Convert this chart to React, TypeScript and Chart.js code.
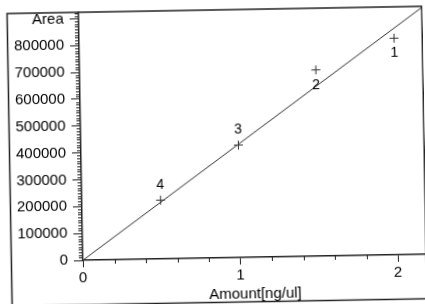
import React, { useEffect, useRef } from 'react';
import { Chart, registerables } from 'chart.js';

Chart.register(...registerables);

// ---- data ----
const amounts = [2, 1.5, 1, 0.5];
const areas = [807000, 694000, 419000, 219000];
const pointLabels = ['1', '2', '3', '4'];
const labelSide = ['below', 'below', 'above', 'above'];

const lineAmounts = [0, 2.184];
const lineAreas = [0, 922000];

const xTickValues = [0, 1, 2];
const xTickLabels = ['0', '1', '2'];
const yTickValues = [0, 100000, 200000, 300000, 400000, 500000, 600000, 700000, 800000, 900000];
const yTickLabels = ['0', '100000', '200000', '300000', '400000', '500000', '600000', '700000', '800000', 'Area'];
const xTitle = 'Amount[ng/ul]';

const X_MAX = 2.184;
const Y_MAX = 924000;
const X_MINOR_STEP = 0.2;
const Y_MINOR_STEP = 10000;

const FONT = '"Liberation Sans", Arial, sans-serif';
const INK = '#000';

const minorTicksPlugin = {
  id: 'minorTicks',
  afterDraw(chart: any) {
    const { ctx, chartArea } = chart;
    const xs = chart.scales.x;
    const ys = chart.scales.y;
    ctx.save();
    ctx.strokeStyle = '#222';
    ctx.lineWidth = 1;
    ctx.beginPath();
    for (let i = 1; i * X_MINOR_STEP < X_MAX; i++) {
      if (i % 5 === 0) continue;
      const px = Math.round(xs.getPixelForValue(i * X_MINOR_STEP)) + 0.5;
      ctx.moveTo(px, chartArea.bottom);
      ctx.lineTo(px, chartArea.bottom + 4);
    }
    for (let i = 1; i * Y_MINOR_STEP < Y_MAX; i++) {
      if (i % 10 === 0) continue;
      const py = Math.round(ys.getPixelForValue(i * Y_MINOR_STEP)) + 0.5;
      ctx.moveTo(chartArea.left - 4, py);
      ctx.lineTo(chartArea.left, py);
    }
    ctx.stroke();
    ctx.restore();
  },
};

const framePlugin = {
  id: 'frame',
  afterDraw(chart: any) {
    const { ctx, chartArea } = chart;
    ctx.save();
    ctx.strokeStyle = '#222';
    ctx.lineWidth = 1.5;
    const left = 9.5;
    const top = chartArea.top;
    const right = chartArea.right - 0.75;
    const bottom = 302.5;
    ctx.strokeRect(left, top, right - left, bottom - top);
    ctx.restore();
  },
};

const pointLabelPlugin = {
  id: 'pointLabels',
  afterDatasetsDraw(chart: any) {
    const { ctx } = chart;
    const meta = chart.getDatasetMeta(1);
    ctx.save();
    ctx.fillStyle = INK;
    ctx.font = `14px ${FONT}`;
    ctx.textAlign = 'center';
    ctx.textBaseline = 'middle';
    meta.data.forEach((el: any, i: number) => {
      const dy = labelSide[i] === 'below' ? 15 : -15;
      ctx.fillText(pointLabels[i], el.x, el.y + dy);
    });
    ctx.restore();
  },
};

export default function App() {
  const canvasRef = useRef<HTMLCanvasElement | null>(null);

  useEffect(() => {
    if (!canvasRef.current) return;
    const chart = new Chart(canvasRef.current, {
      type: 'scatter',
      data: {
        datasets: [
          {
            type: 'line',
            data: lineAmounts.map((x, i) => ({ x, y: lineAreas[i] })),
            borderColor: '#333',
            borderWidth: 1,
            pointRadius: 0,
            fill: false,
          } as any,
          {
            type: 'scatter',
            data: amounts.map((x, i) => ({ x, y: areas[i] })),
            pointStyle: 'cross',
            pointRadius: 4.5,
            borderColor: '#333',
            backgroundColor: '#333',
            borderWidth: 1,
          },
        ],
      },
      options: {
        responsive: false,
        animation: false,
        layout: { autoPadding: false, padding: { top: 10, right: 0, left: 0, bottom: 0 } },
        plugins: { legend: { display: false }, tooltip: { enabled: false } },
        scales: {
          x: {
            type: 'linear',
            min: 0,
            max: X_MAX,
            afterBuildTicks: (s: any) => {
              s.ticks = xTickValues.map((v) => ({ value: v }));
            },
            afterFit: (s: any) => {
              s.height = 46;
              s.paddingLeft = 0;
              s.paddingRight = 0;
            },
            ticks: {
              callback: (_v: any, i: number) => xTickLabels[i],
              color: INK,
              font: { family: FONT, size: 15 },
              padding: 2,
              maxRotation: 0,
            },
            grid: { display: true, drawOnChartArea: false, drawTicks: true, tickLength: 7, color: '#222', lineWidth: 1 },
            border: { display: true, color: '#222', width: 1.5 },
            title: {
              display: true,
              text: xTitle,
              color: INK,
              font: { family: FONT, size: 15, lineHeight: 1.1 },
              padding: { top: 0, bottom: 1 },
            },
          },
          y: {
            type: 'linear',
            min: 0,
            max: Y_MAX,
            afterBuildTicks: (s: any) => {
              s.ticks = yTickValues.map((v) => ({ value: v }));
            },
            afterFit: (s: any) => {
              s.width = 81;
              s.paddingTop = 0;
              s.paddingBottom = 0;
            },
            ticks: {
              callback: (_v: any, i: number) => yTickLabels[i],
              color: INK,
              font: { family: FONT, size: 15 },
              padding: 6,
            },
            grid: { display: true, drawOnChartArea: false, drawTicks: true, tickLength: 9, color: '#222', lineWidth: 1 },
            border: { display: true, color: '#222', width: 1.5 },
          },
        },
      },
      plugins: [minorTicksPlugin, framePlugin, pointLabelPlugin],
    });
    return () => chart.destroy();
  }, []);

  return (
    <div style={{ position: 'fixed', left: 0, top: 0, width: 425, height: 304, overflow: 'hidden', background: '#fff' }}>
      <div style={{ width: 425, height: 304, transform: 'rotate(-1deg)', transformOrigin: '50% 50%' }}>
        <canvas ref={canvasRef} width={425} height={304} style={{ display: 'block' }} />
      </div>
    </div>
  );
}
